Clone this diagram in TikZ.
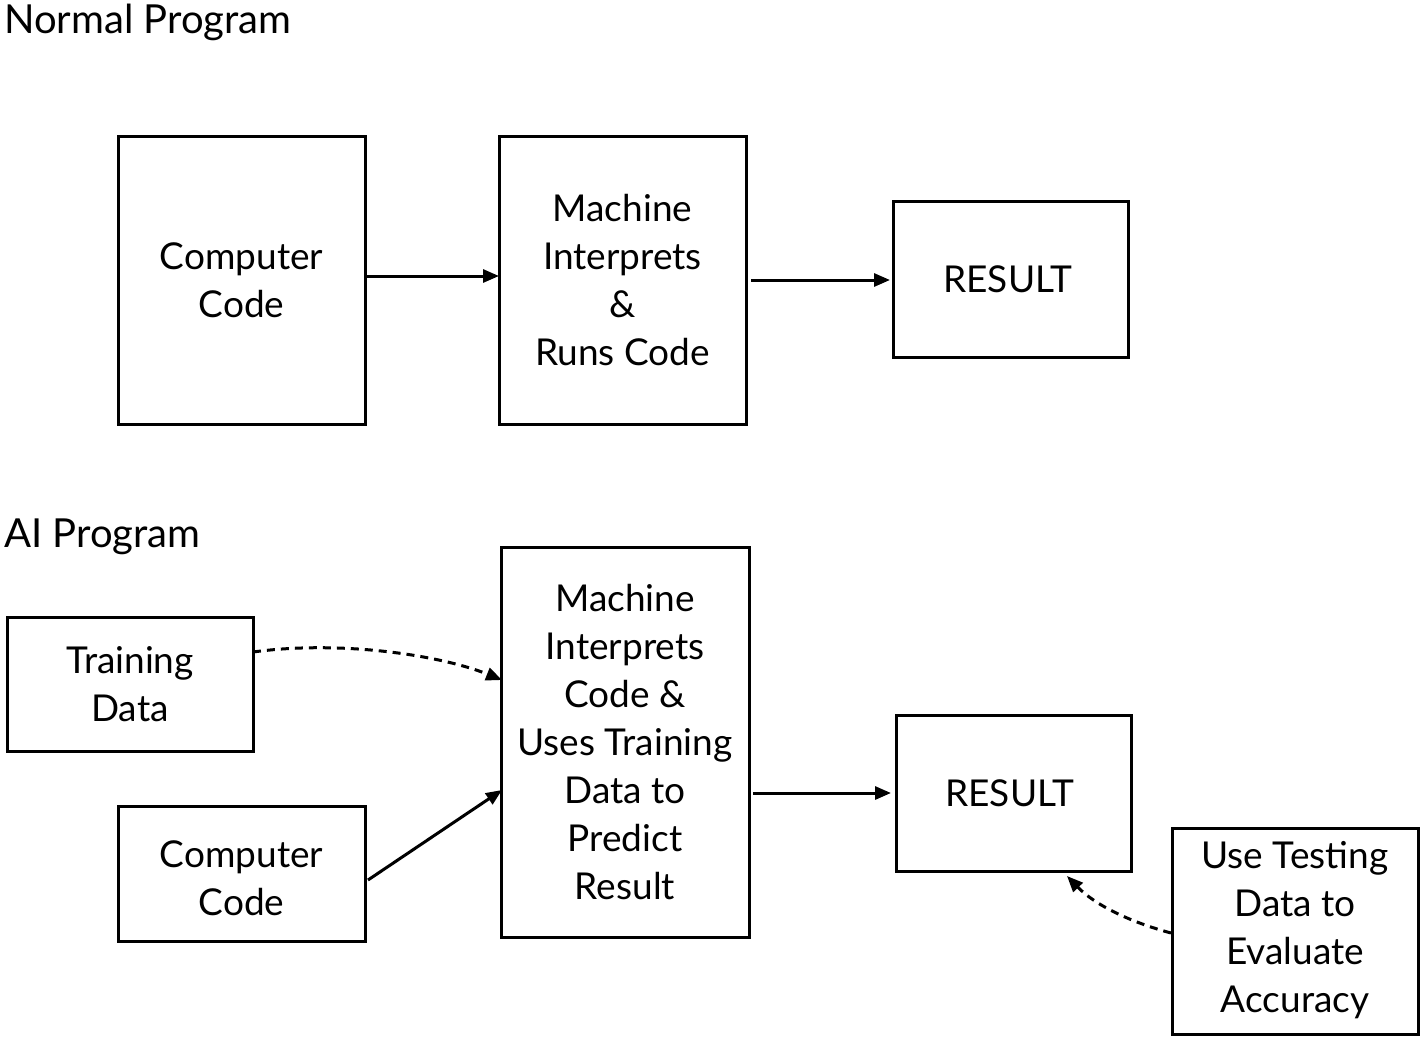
\documentclass[tikz,border=0pt]{standalone}
\usepackage{fontspec}
\setmainfont{Lato}
\usetikzlibrary{arrows.meta}
\begin{document}
\begin{tikzpicture}[x=1pt,y=-1pt,
  box/.style={draw,line width=3pt,inner sep=0pt},
  lbl/.style={align=center,font=\fontsize{37}{48}\selectfont},
  ttl/.style={font=\fontsize{40}{48}\selectfont},
  conn/.style={line width=3pt,-{Triangle[length=16pt,width=13pt]}},
  dconn/.style={conn,dash pattern=on 8pt off 6pt}]
\useasboundingbox (0,0) rectangle (1425,1042);
% titles
\node[ttl,anchor=west,inner sep=0pt] (t1) at (4,22) {Normal Program};
\node[ttl,anchor=west,inner sep=0pt] (t2) at (4,537) {AI Program};
% normal program
\draw[box] (118,136) rectangle (365,424);
\node[lbl] (cc1) at (241.5,280) {Computer\\Code};
\coordinate (cc1e) at (365,276);
\draw[box] (499,136) rectangle (746,424);
\node[lbl] (m1) at (622.5,280) {Machine\\Interprets\\\&\\Runs Code};
\coordinate (m1w) at (499,276);
\coordinate (m1e) at (751,280);
\draw[box] (893,201) rectangle (1128,357);
\node[lbl] (r1) at (1008,279) {RESULT};
\coordinate (r1w) at (890,280);
\draw[conn] (cc1e) -- (m1w);
\draw[conn] (m1e) -- (r1w);
% AI program
\draw[box] (7,617) rectangle (253,751);
\node[lbl] (td) at (130,684) {Training\\Data};
\coordinate (tde) at (253,652);
\draw[box] (118,806) rectangle (365,941);
\node[lbl] (cc2) at (241.5,878) {Computer\\Code};
\coordinate (cc2e) at (368,880);
\draw[box] (501,547) rectangle (749,937);
\node[lbl] (m2) at (625,742) {Machine\\Interprets\\Code \&\\Uses Training\\Data to\\Predict\\Result};
\coordinate (m2a) at (502,680);
\coordinate (m2b) at (502,790);
\coordinate (m2e) at (753,793);
\draw[box] (896,715) rectangle (1131,871);
\node[lbl] (r2) at (1010,793) {RESULT};
\coordinate (r2w) at (891,793);
\coordinate (r2s) at (1067,876);
\draw[box] (1172,828) rectangle (1418,1034);
\node[lbl] (ut) at (1295,930) {Use Testing\\Data to\\Evaluate\\Accuracy};
\coordinate (utw) at (1171,933);
\draw[dconn] (tde) .. controls (340,640) and (440,655) .. (m2a);
\draw[conn] (cc2e) -- (m2b);
\draw[conn] (m2e) -- (r2w);
\draw[dconn] (utw) .. controls (1130,922) and (1095,905) .. (r2s);
\end{tikzpicture}
\end{document}
